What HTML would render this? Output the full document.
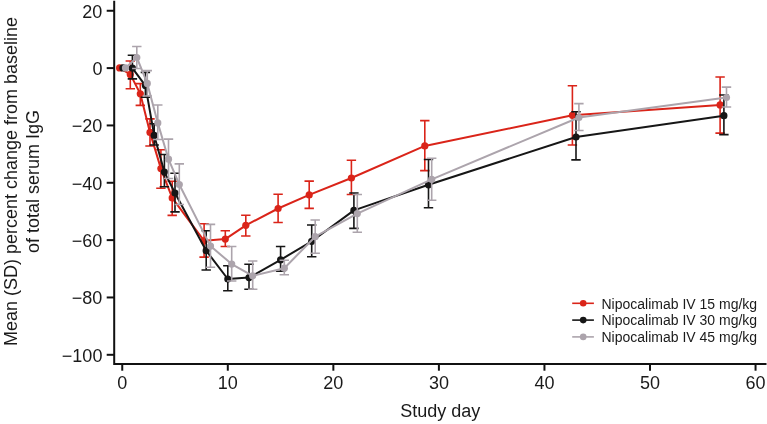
<!DOCTYPE html>
<html><head><meta charset="utf-8"><style>
html,body{margin:0;padding:0;background:#fff;}
svg{display:block;will-change:transform;}
text{font-family:"Liberation Sans",sans-serif;font-size:18.0px;fill:#1a1a1a;}
</style></head><body>
<svg width="767" height="424" viewBox="0 0 767 424">
<path d="M114.2 0.8V364H766.5" stroke="#111" stroke-width="2" fill="none"/>
<path d="M106.7 10.76H114" stroke="#111" stroke-width="2"/>
<text x="102.4" y="17.66" text-anchor="end">20</text>
<path d="M106.7 68.10H114" stroke="#111" stroke-width="2"/>
<text x="102.4" y="75.00" text-anchor="end">0</text>
<path d="M106.7 125.44H114" stroke="#111" stroke-width="2"/>
<text x="102.4" y="132.34" text-anchor="end">−20</text>
<path d="M106.7 182.78H114" stroke="#111" stroke-width="2"/>
<text x="102.4" y="189.68" text-anchor="end">−40</text>
<path d="M106.7 240.12H114" stroke="#111" stroke-width="2"/>
<text x="102.4" y="247.02" text-anchor="end">−60</text>
<path d="M106.7 297.46H114" stroke="#111" stroke-width="2"/>
<text x="102.4" y="304.36" text-anchor="end">−80</text>
<path d="M106.7 354.80H114" stroke="#111" stroke-width="2"/>
<text x="102.4" y="361.70" text-anchor="end">−100</text>
<path d="M122.25 364V370.7" stroke="#111" stroke-width="2"/>
<text x="122.25" y="389.1" text-anchor="middle">0</text>
<path d="M227.80 364V370.7" stroke="#111" stroke-width="2"/>
<text x="227.80" y="389.1" text-anchor="middle">10</text>
<path d="M333.35 364V370.7" stroke="#111" stroke-width="2"/>
<text x="333.35" y="389.1" text-anchor="middle">20</text>
<path d="M438.90 364V370.7" stroke="#111" stroke-width="2"/>
<text x="438.90" y="389.1" text-anchor="middle">30</text>
<path d="M544.45 364V370.7" stroke="#111" stroke-width="2"/>
<text x="544.45" y="389.1" text-anchor="middle">40</text>
<path d="M650.00 364V370.7" stroke="#111" stroke-width="2"/>
<text x="650.00" y="389.1" text-anchor="middle">50</text>
<path d="M755.55 364V370.7" stroke="#111" stroke-width="2"/>
<text x="755.55" y="389.1" text-anchor="middle">60</text>
<text x="440.3" y="417.0" text-anchor="middle">Study day</text>
<text transform="translate(16.9,181.5) rotate(-90)" text-anchor="middle">Mean (SD) percent change from baseline</text>
<text transform="translate(39,181.5) rotate(-90)" text-anchor="middle">of total serum IgG</text>
<path d="M130.3 61.0V88.8M125.6 61.0H135.0M125.6 88.8H135.0" stroke="#da2419" stroke-width="1.6" fill="none"/>
<path d="M140.3 83.6V105.4M135.6 83.6H145.0M135.6 105.4H145.0" stroke="#da2419" stroke-width="1.6" fill="none"/>
<path d="M150.0 118.9V146.0M145.3 118.9H154.7M145.3 146.0H154.7" stroke="#da2419" stroke-width="1.6" fill="none"/>
<path d="M160.9 149.7V188.2M156.2 149.7H165.6M156.2 188.2H165.6" stroke="#da2419" stroke-width="1.6" fill="none"/>
<path d="M172.2 181.2V215.4M167.5 181.2H176.9M167.5 215.4H176.9" stroke="#da2419" stroke-width="1.6" fill="none"/>
<path d="M204.1 223.8V257.1M199.4 223.8H208.8M199.4 257.1H208.8" stroke="#da2419" stroke-width="1.6" fill="none"/>
<path d="M225.3 230.8V246.5M220.6 230.8H230.0M220.6 246.5H230.0" stroke="#da2419" stroke-width="1.6" fill="none"/>
<path d="M245.8 215.2V236.0M241.1 215.2H250.5M241.1 236.0H250.5" stroke="#da2419" stroke-width="1.6" fill="none"/>
<path d="M278.1 194.2V222.5M273.4 194.2H282.8M273.4 222.5H282.8" stroke="#da2419" stroke-width="1.6" fill="none"/>
<path d="M309.2 181.1V208.4M304.5 181.1H313.9M304.5 208.4H313.9" stroke="#da2419" stroke-width="1.6" fill="none"/>
<path d="M351.4 160.2V194.5M346.7 160.2H356.1M346.7 194.5H356.1" stroke="#da2419" stroke-width="1.6" fill="none"/>
<path d="M424.8 120.6V170.6M420.1 120.6H429.5M420.1 170.6H429.5" stroke="#da2419" stroke-width="1.6" fill="none"/>
<path d="M572.4 85.8V145.0M567.7 85.8H577.1M567.7 145.0H577.1" stroke="#da2419" stroke-width="1.6" fill="none"/>
<path d="M720.1 77.0V133.1M715.4 77.0H724.8M715.4 133.1H724.8" stroke="#da2419" stroke-width="1.6" fill="none"/>
<polyline points="119.6,67.9 130.3,74.4 140.3,93.8 150.0,132.4 160.9,168.6 172.2,197.9 204.1,240.8 225.3,239.1 245.8,225.3 278.1,208.5 309.2,194.9 351.4,178.0 424.8,145.9 572.4,115.3 720.1,104.9" stroke="#da2419" stroke-width="2.0" fill="none" stroke-linejoin="round"/>
<circle cx="119.6" cy="67.9" r="3.6" fill="#da2419"/>
<circle cx="130.3" cy="74.4" r="3.6" fill="#da2419"/>
<circle cx="140.3" cy="93.8" r="3.6" fill="#da2419"/>
<circle cx="150.0" cy="132.4" r="3.6" fill="#da2419"/>
<circle cx="160.9" cy="168.6" r="3.6" fill="#da2419"/>
<circle cx="172.2" cy="197.9" r="3.6" fill="#da2419"/>
<circle cx="204.1" cy="240.8" r="3.6" fill="#da2419"/>
<circle cx="225.3" cy="239.1" r="3.6" fill="#da2419"/>
<circle cx="245.8" cy="225.3" r="3.6" fill="#da2419"/>
<circle cx="278.1" cy="208.5" r="3.6" fill="#da2419"/>
<circle cx="309.2" cy="194.9" r="3.6" fill="#da2419"/>
<circle cx="351.4" cy="178.0" r="3.6" fill="#da2419"/>
<circle cx="424.8" cy="145.9" r="3.6" fill="#da2419"/>
<circle cx="572.4" cy="115.3" r="3.6" fill="#da2419"/>
<circle cx="720.1" cy="104.9" r="3.6" fill="#da2419"/>
<path d="M132.4 55.3V78.9M127.7 55.3H137.1M127.7 78.9H137.1" stroke="#161616" stroke-width="1.6" fill="none"/>
<path d="M145.4 72.4V97.3M140.7 72.4H150.1M140.7 97.3H150.1" stroke="#161616" stroke-width="1.6" fill="none"/>
<path d="M154.2 123.8V145.0M149.5 123.8H158.9M149.5 145.0H158.9" stroke="#161616" stroke-width="1.6" fill="none"/>
<path d="M164.4 154.5V186.8M159.7 154.5H169.1M159.7 186.8H169.1" stroke="#161616" stroke-width="1.6" fill="none"/>
<path d="M175.0 173.3V211.9M170.3 173.3H179.7M170.3 211.9H179.7" stroke="#161616" stroke-width="1.6" fill="none"/>
<path d="M206.2 230.8V270.0M201.5 230.8H210.9M201.5 270.0H210.9" stroke="#161616" stroke-width="1.6" fill="none"/>
<path d="M227.8 265.8V290.8M223.1 265.8H232.5M223.1 290.8H232.5" stroke="#161616" stroke-width="1.6" fill="none"/>
<path d="M249.0 264.3V289.3M244.3 264.3H253.7M244.3 289.3H253.7" stroke="#161616" stroke-width="1.6" fill="none"/>
<path d="M280.6 246.5V271.2M275.9 246.5H285.3M275.9 271.2H285.3" stroke="#161616" stroke-width="1.6" fill="none"/>
<path d="M311.7 225.0V256.8M307.0 225.0H316.4M307.0 256.8H316.4" stroke="#161616" stroke-width="1.6" fill="none"/>
<path d="M353.9 193.0V228.4M349.2 193.0H358.6M349.2 228.4H358.6" stroke="#161616" stroke-width="1.6" fill="none"/>
<path d="M428.5 159.5V207.8M423.8 159.5H433.2M423.8 207.8H433.2" stroke="#161616" stroke-width="1.6" fill="none"/>
<path d="M576.0 111.8V159.9M571.3 111.8H580.7M571.3 159.9H580.7" stroke="#161616" stroke-width="1.6" fill="none"/>
<path d="M723.9 95.0V134.6M719.2 95.0H728.6M719.2 134.6H728.6" stroke="#161616" stroke-width="1.6" fill="none"/>
<polyline points="122.9,67.9 132.4,68.2 145.4,85.6 154.2,135.4 164.4,172.1 175.0,193.0 206.2,250.7 227.8,279.0 249.0,277.6 280.6,259.8 311.7,241.3 353.9,210.4 428.5,184.8 576.0,137.0 723.9,115.7" stroke="#161616" stroke-width="2.0" fill="none" stroke-linejoin="round"/>
<circle cx="122.9" cy="67.9" r="3.6" fill="#161616"/>
<circle cx="132.4" cy="68.2" r="3.6" fill="#161616"/>
<circle cx="145.4" cy="85.6" r="3.6" fill="#161616"/>
<circle cx="154.2" cy="135.4" r="3.6" fill="#161616"/>
<circle cx="164.4" cy="172.1" r="3.6" fill="#161616"/>
<circle cx="175.0" cy="193.0" r="3.6" fill="#161616"/>
<circle cx="206.2" cy="250.7" r="3.6" fill="#161616"/>
<circle cx="227.8" cy="279.0" r="3.6" fill="#161616"/>
<circle cx="249.0" cy="277.6" r="3.6" fill="#161616"/>
<circle cx="280.6" cy="259.8" r="3.6" fill="#161616"/>
<circle cx="311.7" cy="241.3" r="3.6" fill="#161616"/>
<circle cx="353.9" cy="210.4" r="3.6" fill="#161616"/>
<circle cx="428.5" cy="184.8" r="3.6" fill="#161616"/>
<circle cx="576.0" cy="137.0" r="3.6" fill="#161616"/>
<circle cx="723.9" cy="115.7" r="3.6" fill="#161616"/>
<path d="M136.8 46.5V68.5M132.1 46.5H141.5M132.1 68.5H141.5" stroke="#aca4ac" stroke-width="1.6" fill="none"/>
<path d="M147.3 70.6V96.0M142.6 70.6H152.0M142.6 96.0H152.0" stroke="#aca4ac" stroke-width="1.6" fill="none"/>
<path d="M157.8 105.0V139.5M153.1 105.0H162.5M153.1 139.5H162.5" stroke="#aca4ac" stroke-width="1.6" fill="none"/>
<path d="M168.5 139.1V178.5M163.8 139.1H173.2M163.8 178.5H173.2" stroke="#aca4ac" stroke-width="1.6" fill="none"/>
<path d="M179.3 163.9V204.5M174.6 163.9H184.0M174.6 204.5H184.0" stroke="#aca4ac" stroke-width="1.6" fill="none"/>
<path d="M210.5 224.4V267.3M205.8 224.4H215.2M205.8 267.3H215.2" stroke="#aca4ac" stroke-width="1.6" fill="none"/>
<path d="M231.7 246.5V281.0M227.0 246.5H236.4M227.0 281.0H236.4" stroke="#aca4ac" stroke-width="1.6" fill="none"/>
<path d="M252.7 261.0V289.3M248.0 261.0H257.4M248.0 289.3H257.4" stroke="#aca4ac" stroke-width="1.6" fill="none"/>
<path d="M284.3 260.2V274.8M279.6 260.2H289.0M279.6 274.8H289.0" stroke="#aca4ac" stroke-width="1.6" fill="none"/>
<path d="M315.2 220.0V253.3M310.5 220.0H319.9M310.5 253.3H319.9" stroke="#aca4ac" stroke-width="1.6" fill="none"/>
<path d="M357.3 194.5V232.3M352.6 194.5H362.0M352.6 232.3H362.0" stroke="#aca4ac" stroke-width="1.6" fill="none"/>
<path d="M431.7 158.3V200.3M427.0 158.3H436.4M427.0 200.3H436.4" stroke="#aca4ac" stroke-width="1.6" fill="none"/>
<path d="M578.9 103.6V130.5M574.2 103.6H583.6M574.2 130.5H583.6" stroke="#aca4ac" stroke-width="1.6" fill="none"/>
<path d="M726.5 87.1V107.0M721.8 87.1H731.2M721.8 107.0H731.2" stroke="#aca4ac" stroke-width="1.6" fill="none"/>
<polyline points="125.5,67.9 136.8,57.5 147.3,83.4 157.8,122.9 168.5,159.2 179.3,184.5 210.5,246.1 231.7,264.1 252.7,275.8 284.3,268.2 315.2,236.7 357.3,213.6 431.7,179.3 578.9,117.5 726.5,97.5" stroke="#aca4ac" stroke-width="2.0" fill="none" stroke-linejoin="round"/>
<circle cx="125.5" cy="67.9" r="3.6" fill="#aca4ac"/>
<circle cx="136.8" cy="57.5" r="3.6" fill="#aca4ac"/>
<circle cx="147.3" cy="83.4" r="3.6" fill="#aca4ac"/>
<circle cx="157.8" cy="122.9" r="3.6" fill="#aca4ac"/>
<circle cx="168.5" cy="159.2" r="3.6" fill="#aca4ac"/>
<circle cx="179.3" cy="184.5" r="3.6" fill="#aca4ac"/>
<circle cx="210.5" cy="246.1" r="3.6" fill="#aca4ac"/>
<circle cx="231.7" cy="264.1" r="3.6" fill="#aca4ac"/>
<circle cx="252.7" cy="275.8" r="3.6" fill="#aca4ac"/>
<circle cx="284.3" cy="268.2" r="3.6" fill="#aca4ac"/>
<circle cx="315.2" cy="236.7" r="3.6" fill="#aca4ac"/>
<circle cx="357.3" cy="213.6" r="3.6" fill="#aca4ac"/>
<circle cx="431.7" cy="179.3" r="3.6" fill="#aca4ac"/>
<circle cx="578.9" cy="117.5" r="3.6" fill="#aca4ac"/>
<circle cx="726.5" cy="97.5" r="3.6" fill="#aca4ac"/>
<path d="M572.2 303.3H593.9" stroke="#da2419" stroke-width="1.6"/>
<circle cx="583.2" cy="303.3" r="3.3" fill="#da2419"/>
<text x="601.5" y="308.6" style="font-size:14px">Nipocalimab IV 15 mg/kg</text>
<path d="M572.2 320.1H593.9" stroke="#161616" stroke-width="1.6"/>
<circle cx="583.2" cy="320.1" r="3.3" fill="#161616"/>
<text x="601.5" y="325.4" style="font-size:14px">Nipocalimab IV 30 mg/kg</text>
<path d="M572.2 336.9H593.9" stroke="#aca4ac" stroke-width="1.6"/>
<circle cx="583.2" cy="336.9" r="3.3" fill="#aca4ac"/>
<text x="601.5" y="342.2" style="font-size:14px">Nipocalimab IV 45 mg/kg</text>
</svg>
</body></html>
